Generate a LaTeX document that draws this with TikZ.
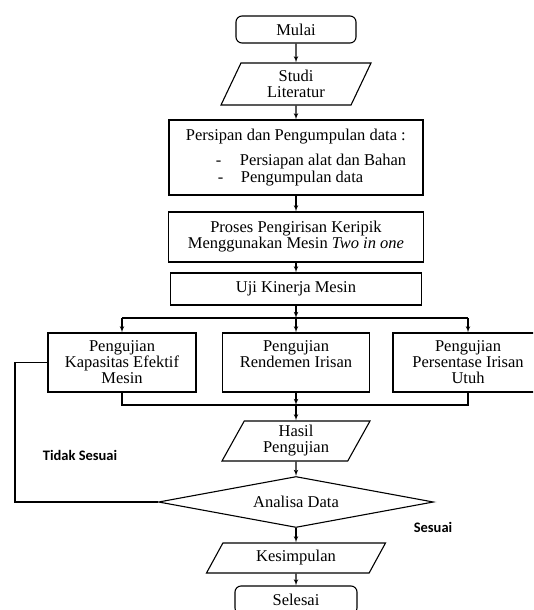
\documentclass[tikz,border=0pt]{standalone}
\usepackage{fontspec}
\setmainfont{Liberation Serif}
\newfontfamily\calibri{Carlito}
\usetikzlibrary{shapes,arrows}
\tikzstyle{block} = [rectangle, draw, align=center, inner sep=2pt]
\tikzstyle{startstop} = [rectangle, draw, rounded corners=6pt, align=center,
    minimum width=120pt, minimum height=27pt]
\tikzstyle{io} = [trapezium, draw, trapezium stretches body, align=center,
    trapezium left angle=56, trapezium right angle=124, inner sep=1pt]
\tikzstyle{test} = [block, minimum width=148pt, minimum height=59pt]
\tikzstyle{decision} = [diamond, draw, aspect=5, inner sep=0pt,
    minimum width=275pt, minimum height=51pt]
\tikzstyle{note} = [font=\calibri\bfseries\fontsize{14.5}{16}\selectfont]
\tikzstyle{line} = [draw, -latex']

\begin{document}
\begin{tikzpicture}[x=1pt, y=1pt, line width=1.1pt, font=\fontsize{16.5}{16}\selectfont]
    \useasboundingbox (0,0) rectangle (533,-610);
    \clip (0,0) rectangle (533,-610);
    % Place nodes
    \node [startstop] (mulai) at (296,-29.5) {Mulai};
    \node [io, below of=mulai, node distance=54.5pt, minimum width=150pt, minimum height=42pt] (studi) {Studi\\Literatur};
    \node [block, below of=studi, node distance=73.5pt, minimum width=254pt, minimum height=75pt, align=left] (persiapan) {Persipan dan Pengumpulan data :\\[9pt]\hspace*{30pt}\makebox[24pt][l]{-}Persiapan alat dan Bahan\\[1pt]\hspace*{32pt}\makebox[23pt][l]{-}Pengumpulan data};
    \node [block, below of=persiapan, node distance=79.5pt, minimum width=255pt, minimum height=50pt] (proses) {Proses Pengirisan Keripik\\Menggunakan Mesin \textit{Two in one}};
    \node [block, below of=proses, node distance=52pt, minimum width=251pt, minimum height=32pt] (uji) {Uji Kinerja Mesin};
    \node [test, below of=uji, node distance=73.5pt, minimum width=147pt] (rendemen) {Pengujian\\Rendemen Irisan\\\mbox{}};
    \node [test, left of=rendemen, node distance=174pt] (kapasitas) {Pengujian\\Kapasitas Efektif\\Mesin};
    \node [test, right of=rendemen, node distance=172pt, minimum width=150pt] (persentase) {Pengujian\\Persentase Irisan\\Utuh};
    \node [io, below of=uji, node distance=152pt, minimum width=148pt, minimum height=40pt] (hasil) {Hasil\\Pengujian};
    \node [decision, below of=hasil, node distance=61pt] (analisa) {Analisa Data};
    \node [io, below of=analisa, node distance=56pt, minimum width=179pt, minimum height=30pt,
        trapezium left angle=46, trapezium right angle=134] (kesimpulan) {Kesimpulan};
    \node [startstop, below of=kesimpulan, node distance=42pt, minimum width=122pt, minimum height=28pt] (selesai) {Selesai};
    \node [note] (tidak) at (80,-455) {Tidak Sesuai};
    \node [note] (sesuai) at (433,-527) {Sesuai};
    \coordinate [below of=uji, node distance=29pt] (split);
    \coordinate [below of=rendemen, node distance=42.5pt] (join);
    \coordinate (back) at (15,-362.5);
    % Draw edges
    \path [line] (mulai) -- (studi);
    \path [line] (studi) -- (persiapan);
    \path [line] (persiapan) -- (proses);
    \path [line] (proses) -- (uji);
    \path [line] (uji) -- (split);
    \draw (kapasitas.north |- split) -- (persentase.north |- split);
    \path [line] (kapasitas.north |- split) -- (kapasitas);
    \path [line] (split) -- (rendemen);
    \path [line] (persentase.north |- split) -- (persentase);
    \draw (kapasitas.south) |- (join) -| (persentase.south);
    \path [line] (rendemen) -- (join);
    \path [line] (join) -- (hasil);
    \path [line] (hasil) -- (analisa);
    \path [line] (analisa) -- (kesimpulan);
    \path [line] (kesimpulan) -- (selesai);
    \draw (analisa.west) -| (back) -- (kapasitas.west);
\end{tikzpicture}
\end{document}
